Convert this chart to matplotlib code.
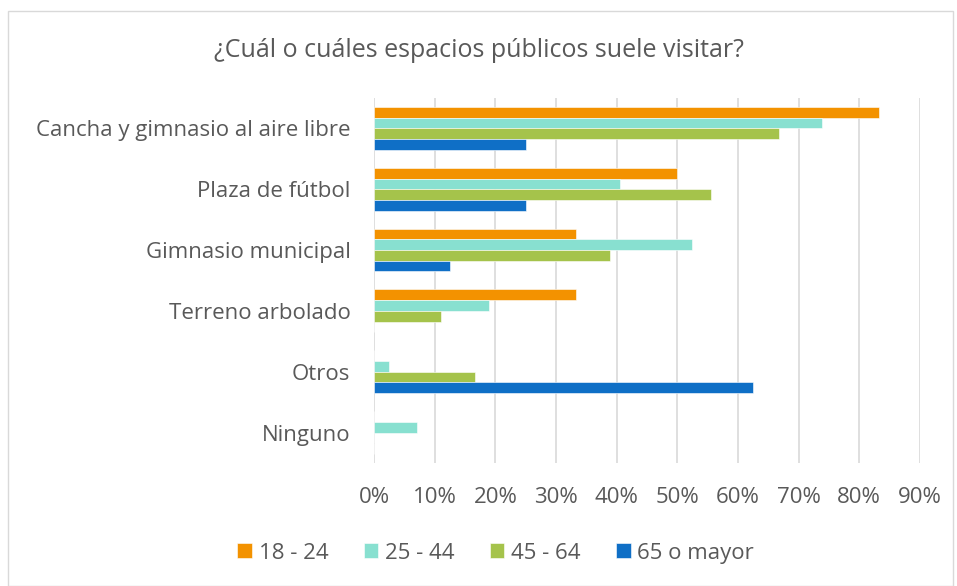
import numpy as np
import matplotlib.pyplot as plt
from matplotlib.patches import Rectangle
from matplotlib.ticker import PercentFormatter

plt.rcParams['font.family'] = ['Open Sans', 'DejaVu Sans']

# --- Datos ---
categorias = ["Cancha y gimnasio al aire libre", "Plaza de fútbol", "Gimnasio municipal",
              "Terreno arbolado", "Otros", "Ninguno"]
edades = ["18 - 24", "25 - 44", "45 - 64", "65 o mayor"]
v_18_24 = [83.3, 50.0, 33.3, 33.3, 0.0, 0.0]
v_25_44 = [73.8, 40.5, 52.4, 19.0, 2.4, 7.1]
v_45_64 = [66.7, 55.6, 38.9, 11.1, 16.7, 0.0]
v_65_mas = [25.0, 25.0, 12.5, 0.0, 62.5, 0.0]
colores = ["#F39200", "#88E0D0", "#A5C34B", "#0F6FC6"]
ticks_x = [0, 10, 20, 30, 40, 50, 60, 70, 80, 90]

series = [v_18_24, v_25_44, v_45_64, v_65_mas]
gris = "#595959"

fig = plt.figure(figsize=(9.57, 5.86), dpi=100)
ax = fig.add_axes([0.3908, 0.2099, 0.5705, 0.6229])

y = np.arange(len(categorias))
alto = 0.176
for i, (vals, col, lab) in enumerate(zip(series, colores, edades)):
    ax.barh(y + (i - 1.5) * alto, vals, height=alto, color=col, label=lab,
            edgecolor="white", linewidth=0.4, zorder=3)

ax.set_ylim(len(categorias) - 0.5, -0.5)
ax.set_xlim(0, 90)
ax.set_xticks(ticks_x)
ax.xaxis.set_major_formatter(PercentFormatter(decimals=0))
ax.set_yticks(y)
ax.set_yticklabels(categorias)
ax.grid(axis="x", color="#D9D9D9", linewidth=1.2, zorder=0)
for s in ax.spines.values():
    s.set_visible(False)
ax.tick_params(axis="both", length=0, colors=gris, labelsize=16)
ax.tick_params(axis="x", pad=17)
ax.tick_params(axis="y", pad=17)

fig.text(0.5, 0.913, "¿Cuál o cuáles espacios públicos suele visitar?",
         ha="center", va="center", fontsize=18, color=gris)

ax.legend(loc="center", bbox_to_anchor=(0.518, 0.056), bbox_transform=fig.transFigure,
          ncol=4, frameon=False, fontsize=16, labelcolor=gris,
          handlelength=0.65, handleheight=0.65, handletextpad=0.3, columnspacing=1.6)

fig.add_artist(Rectangle((0.008, 0.0), 0.988, 0.982, transform=fig.transFigure,
                         fill=False, edgecolor="#D9D9D9", linewidth=1.0))

fig.savefig("out.png", dpi=100)
